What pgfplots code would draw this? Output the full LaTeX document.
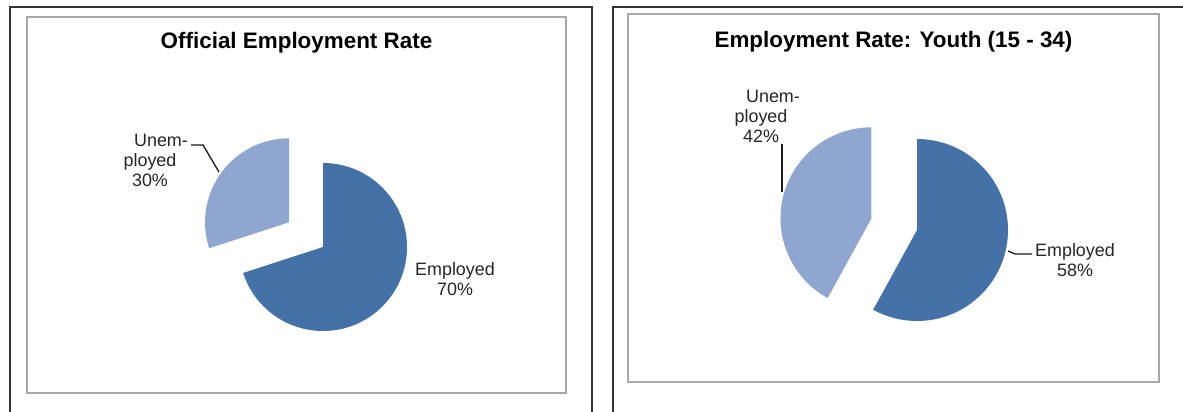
\documentclass[border=0pt]{standalone}
\usepackage{fontspec}
\setmainfont{Liberation Sans}
\usepackage{pgfplots}
\usepackage{pgfplotstable}
\pgfplotsset{compat=1.18}
\definecolor{empcol}{HTML}{4472A8}
\definecolor{uncol}{HTML}{8FA6D0}
\definecolor{framecol}{HTML}{333333}
\definecolor{boxcol}{HTML}{A8A8A8}
\definecolor{labcol}{HTML}{262626}

% shares (per cent) of the two pies
\pgfplotstableread{
status     official youth
Employed   70       58
Unemployed 30       42
}\pietable
\pgfplotstablegetelem{0}{official}\of\pietable \let\EmpA\pgfplotsretval
\pgfplotstablegetelem{1}{official}\of\pietable \let\UnA\pgfplotsretval
\pgfplotstablegetelem{0}{youth}\of\pietable \let\EmpB\pgfplotsretval
\pgfplotstablegetelem{1}{youth}\of\pietable \let\UnB\pgfplotsretval
\pgfmathsetmacro{\EndA}{90-3.6*\EmpA}
\pgfmathsetmacro{\UEndA}{90+3.6*\UnA}
\pgfmathsetmacro{\MidA}{90+1.8*\UnA}
\pgfmathsetmacro{\EndB}{90-3.6*\EmpB}
\pgfmathsetmacro{\UEndB}{90+3.6*\UnB}
\pgfmathsetmacro{\MidB}{90+1.8*\UnB}

\newcommand{\labfont}{\fontsize{18}{20}\selectfont}
\pgfplotsset{piebox/.style={scale only axis, xtick=\empty, ytick=\empty,
  axis line style={draw=boxcol, line width=1.2bp}, anchor=north west,
  title style={font=\fontsize{22.5}{26}\selectfont\bfseries, anchor=base, at={(0.5,1)}},
  clip=false}}

\begin{document}
\begin{tikzpicture}
\useasboundingbox (0,0) rectangle (1183bp,-412bp);
\fill[white] (0,0) rectangle (1183bp,-412bp);
\begin{scope}[x=1bp,y=-1bp]
\draw[framecol, line width=2bp] (10,420) -- (10,7) -- (592,7) -- (592,420);
\draw[framecol, line width=2bp] (613,420) -- (613,7) -- (1195,7);
\end{scope}

\begin{axis}[piebox, at={(27bp,-17bp)}, width=539bp, height=376bp,
  xmin=27, xmax=566, ymin=-393, ymax=-17,
  title={Official Employment Rate}, title style={yshift=-37bp}]
\fill[empcol] (axis cs:323,-247) -- ++(90:84bp) arc[start angle=90, end angle=\EndA, radius=84bp] -- cycle;
\fill[uncol] (axis cs:323,-247) ++(\MidA:42bp) -- ++(90:84bp) arc[start angle=90, end angle=\UEndA, radius=84bp] -- cycle;
\draw[black!90, line width=1.3bp] (axis cs:191,-145) -- (axis cs:203,-145) -- (axis cs:219,-172);
\node[align=center, font=\labfont, text=labcol, inner sep=0pt] at (axis cs:150,-160.5) {\hspace*{22bp}Unem-\\ployed\\\UnA\%};
\node[align=center, font=\labfont, text=labcol, inner sep=0pt] at (axis cs:455,-279) {Employed\\\EmpA\%};
\end{axis}

\begin{axis}[piebox, at={(628bp,-14bp)}, width=531bp, height=368bp,
  xmin=628, xmax=1159, ymin=-382, ymax=-14,
  title={Employment Rate: Youth (15 - 34)}, title style={yshift=-39bp}]
\fill[empcol] (axis cs:917,-230) -- ++(90:91bp) arc[start angle=90, end angle=\EndB, radius=91bp] -- cycle;
\fill[uncol] (axis cs:917,-230) ++(\MidB:47bp) -- ++(90:91bp) arc[start angle=90, end angle=\UEndB, radius=91bp] -- cycle;
\draw[black!90, line width=1.3bp] (axis cs:782,-144) -- (axis cs:782,-192);
\draw[black!90, line width=1.3bp] (axis cs:1008,-251) -- (axis cs:1015,-254) -- (axis cs:1032,-254);
\node[align=center, font=\labfont, text=labcol, inner sep=0pt] at (axis cs:761,-116.5) {\hspace*{24bp}Unem-\\ployed\\\UnB\%};
\node[align=center, font=\labfont, text=labcol, inner sep=0pt] at (axis cs:1075,-260) {Employed\\\EmpB\%};
\end{axis}
\end{tikzpicture}
\end{document}
